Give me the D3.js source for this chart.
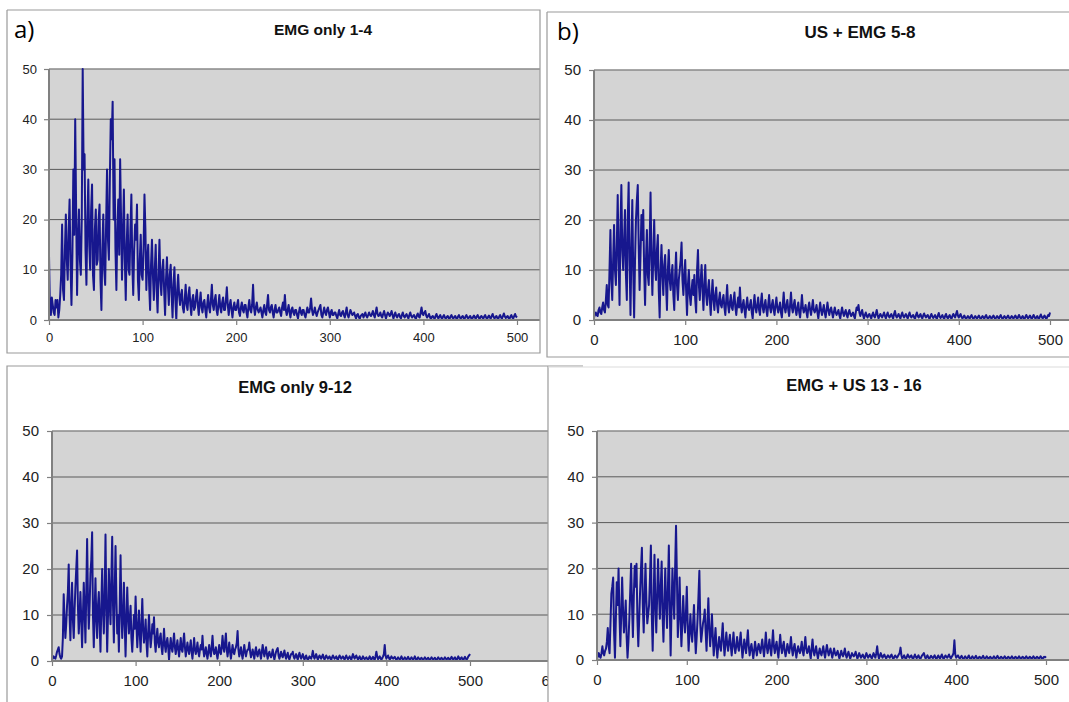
<!DOCTYPE html>
<html><head><meta charset="utf-8">
<script src="https://cdn.jsdelivr.net/npm/d3@7"></script>
<style>body{margin:0;background:#fff}svg{display:block}</style>
</head><body><svg id="c" width="1069" height="702"></svg>
<script>
// frequency step between samples (Hz)
const freqStep = 1;

const emgOnly1to4 = [
13,2,1,4.5,3,1.5,1,4,2.5,4,0.5,2,5,9,19,6,4,14,21,12,
8,18,24,11,3,13,30,17,40,22,5,16,22,12,9,20,50,30,33,14,
7,20,28,15,10,22,27,9,6,18,22,11,12,20,23,8,2,14,21,10,
7,19,30,16,12,28,40,36,43.5,20,32,14,6,18,24,13,32,20,8,17,
26,12,4,15,21,10,9,18,25,11,5,14,19,16,23,8,4,12,17,9,
8,14,25,18,6,12,15,7,2,11,16,9,4,10,15,6,1.5,9,16,8,
5,10,12,6,1,8,12.5,7,3,9,11,5,0.5,7,10.5,4,0,6,9,5,
3,5,6,2.5,1.5,4,7,3,2,5,6.5,3,1,4,5,2,2.5,4.5,6,3,
1,3.5,5.5,2.5,1.5,3.5,4,2,0.5,3,5,2.5,1.5,4,7,3,2,4,5,2,
1,3,5,2.5,1.5,3.5,4.5,2,2,4,6.5,3,1,3,4,2,0.5,2.5,3.5,2,
2,3,4,1.5,0.8,2.5,3.5,2,1.5,3,3,1.5,0.5,2.5,4,2,1.5,3,7,2.5,
1,2.5,3.5,2,1.5,2,2.5,1.5,0.5,2,3,1.5,1,3,5,2,1.5,2.5,3,1.5,
0.5,2,3,1.5,1.5,2,2.5,1.5,0.8,2.5,3.5,2,5,2,1,2,3,1.5,0.5,2,
2.5,1.5,1,2,2,1,0.3,1.5,2.5,1.5,1,2,2,1,0.5,1.5,2.5,1.5,1.5,2.5,
4.3,2,1,1.5,2.5,1.5,0.8,1.5,2,2.5,3,1,0.5,1.5,2.5,1.5,1,2,2.5,1.5,
0.5,1.5,2,1,1,1.5,1.5,0.8,0.3,1.2,2,1,0.8,1.5,1.8,1,0.5,1.5,2.5,1,
0.5,1.2,2,1.5,1,1.2,1.5,0.8,0.3,1,1.2,0.6,0.2,0.8,1,1.2,0.5,1,1.5,0.8,
0.5,1,1.5,1,0.8,1.2,1.8,1,0.5,1.5,2.5,1.2,0.8,1,1.5,0.8,0.5,1.2,1.8,1,
0.3,1,1.5,1.2,0.8,1.2,1.8,1,0.3,1,1.5,0.8,0.5,1,1.2,0.6,0.3,1,1.5,0.8,
0.5,0.9,1.2,0.7,0.3,1,1.5,0.8,0.5,0.8,1,0.5,0.2,0.9,1.3,0.7,0.5,1.5,2.5,1.2,
1,1.5,1.8,0.9,0.5,0.8,1.2,0.6,0.2,0.6,0.8,0.5,0.2,0.8,1.2,0.6,0.3,0.7,1,0.5,
0.2,0.7,1,0.5,0.3,0.6,0.8,0.4,0.2,0.7,1,0.5,0.3,0.6,0.8,0.4,0.2,0.7,1,0.5,
0.3,0.6,0.8,0.4,0.2,0.7,1,0.5,0.3,0.6,0.8,0.4,0.2,0.6,0.9,0.5,0.3,0.7,1,0.5,
0.2,0.6,0.8,0.5,0.3,0.7,1,0.5,0.2,0.6,0.9,0.5,0.3,0.8,1.2,0.6,0.3,0.6,0.8,0.4,
0.2,0.7,1,0.5,0.3,0.8,1.3,0.7,0.4,0.6,0.8,0.4,0.2,0.7,1,0.5,0.3,0.8,1.2,0.7,
0.5];

const usEmg5to8 = [
0.5,1,1.5,1,0.8,2,2.5,1.5,1.2,2.5,3.5,2,1.5,4,7,3,2.5,10,18,8,
4,12,19,10,7,15,25,12,3,18,27,14,10,16,22,9,4,20,27.5,12,
1,14,24,10,0.5,12,20,24,27,15,6,13,21,16,22,10,3,12,18,9,
7,15,25.5,12,5,13,20,11,8,14,17,6,0.5,10,15,9,5,11,13,7,
2,10,14,8,6,9,11,5,2,9,13.5,7,4,8,10,12,15.5,8,5,9,
12,6,1,7,10,5,3,6,8,5,9,4,1.5,10,14,7,4,8,11,6,
2,7,11,5,3,6,8,4,1,5,8,4,2,5,6.5,3,1.5,4,5.5,3,
2.5,4,5,2.5,1,4,7,3,1.5,3.5,5,2.5,2,4,5.5,2.5,1,3,4.5,2.5,
6.5,3,1.5,3,4,2,0.5,3,4.5,2.5,2,3,4,1.5,0.3,3,5,2.5,1.5,3,
4.5,2,1,3.5,5.3,2.5,1.5,3,4,2,0.8,3,5,2.5,1.5,3,4,2,1,3,
4.5,2.5,1.5,2.5,3.5,1.5,0.5,3,5.5,2.5,1.5,3,4,2,0.8,3,5.5,2.5,1.5,3,
4,2,1,2.5,3.5,1.5,0.5,2.5,5,2.5,1.5,2,3,1.5,0.5,2.5,3.5,2,1,2.5,
4,2,1.5,2,3,1.5,0.3,2,3.5,2,1,2,3,1.5,0.5,2,3.5,2,1,2,
2.5,1.5,0.5,1.5,2.5,1.5,1,1.5,2,1,0.3,1.5,2.5,1.5,0.8,1.5,2,1,0.5,1.5,
2,1.2,0.8,1.2,1.5,0.8,0.3,1.5,2.5,2,3,1.5,0.8,1.5,2,1,0.3,1,1.5,0.8,
0.5,1,1.2,0.7,0.3,1,1.5,0.8,0.5,1.2,2,1,0.3,0.8,1.2,0.8,0.5,1,1.5,0.8,
0.3,1,1.5,0.8,0.5,0.9,1.2,0.7,0.3,1.2,1.8,0.9,0.5,0.8,1.2,0.7,0.3,1,1.5,0.8,
0.5,0.9,1.2,0.7,0.3,1,1.5,0.8,0.5,0.8,1,0.5,0.2,1,1.5,0.8,0.5,0.9,1.2,0.6,
0.3,0.9,1.3,0.8,0.5,0.8,1,0.5,0.2,0.8,1.2,0.7,0.4,0.7,1,0.5,0.2,0.9,1.4,0.7,
0.4,0.7,1,0.5,0.2,0.8,1.2,0.6,0.3,0.7,1,0.5,0.2,0.8,1.2,0.8,0.5,1.2,1.8,0.9,
0.5,0.9,1.2,0.6,0.3,0.6,0.9,0.5,0.2,0.5,0.8,0.5,0.3,0.7,1,0.5,0.2,0.5,0.8,0.5,
0.3,0.6,0.9,0.5,0.2,0.5,0.8,0.5,0.3,0.7,1,0.5,0.2,0.5,0.8,0.5,0.3,0.6,0.9,0.5,
0.2,0.5,0.8,0.5,0.3,0.7,1,0.5,0.2,0.5,0.8,0.5,0.3,0.6,0.9,0.5,0.2,0.5,0.8,0.5,
0.3,0.6,0.9,0.5,0.2,0.6,1,0.6,0.3,0.5,0.8,0.4,0.2,0.6,1,0.6,0.3,0.6,0.9,0.5,
0.2,0.6,1,0.6,0.3,0.5,0.8,0.4,0.2,0.7,1.1,0.6,0.3,0.6,0.9,0.5,0.2,0.6,1,0.8,
1.5];

const emgOnly9to12 = [
0.3,0.6,1,0.7,0.5,1.2,2,2.5,3,1.5,0.8,0.5,1,5,14.5,9,5,8,12,15,
21,10,4.5,12,17,9,5,11,16,20,24,12,6,10,15,9,3,10,17,11,
4,15,26.5,14,7,12,19,22,28,10,3,11,18,9,5,12,15,8,2,12,
20,11,6,14,27.5,12,2,10,20,13,8,18,27,12,4,15,25,14,6,10,
2,12,23,11,5,10,17,8,1,9,16,10,6,9,12,5,2,6,10,7,
14,8,3,7,11,6,2,8,13.5,7,4,6,9,4,1,6,10,6,3,5,
8,6,9.5,4,2,5,7,4,3,5,6,3,1.5,4,7,3.5,2,4,5,3,
0.3,3,5,3,2,4,6,3,1.5,3,4.5,2.5,1,3,5,2.5,2,4,6,3,
1,2.5,4,2.5,1.5,3,4.5,2,0.5,2.5,5,2.5,1.5,2.5,4,2,1,2.5,3.5,2.5,
5.5,2.5,1,2,3,1.5,0.5,2,3.5,2,1,3,5.5,2.5,1.5,2,3,1.5,0.5,2,
3.5,2,1.5,3,5.5,3,2,4,6,2.5,1,2.5,4,2,0.5,2,3.5,2,1.5,2.5,
3,4,6.5,2.5,1,2,3,1.5,0.5,2,3.5,2,1,2,2.5,2.5,4,2,0.8,1.5,
2.5,1.5,0.5,2,3,1.5,1,2,2.5,1.5,0.5,2,3.5,2,1,2,3,1.5,0.5,1.5,
2,1.2,0.8,1.5,2.5,1.2,0.3,1.2,2,2.5,2.8,1.2,0.5,1.2,2,1.2,0.8,1.5,2.3,1.2,
0.5,1.2,1.8,0.8,0.3,1,1.5,1.5,2,1,0.5,1,1.5,0.8,0.3,1.2,1.8,1,0.5,1,
1.5,0.8,0.3,0.8,1.2,0.6,0.2,0.6,1,0.7,0.5,1.2,2.2,1,0.5,1,1.5,0.8,0.3,0.8,
1.2,0.8,0.5,1,1.4,0.7,0.3,0.8,1.2,0.8,0.5,0.8,1,0.5,0.2,0.8,1.2,0.8,0.5,0.7,
1,0.5,0.2,0.8,1.2,0.8,0.5,0.8,1,0.6,0.3,0.8,1.2,0.7,0.4,0.7,1,0.6,0.3,0.9,
1.5,0.9,0.5,0.9,1.2,0.7,0.3,0.7,1,0.5,0.2,0.6,1,0.6,0.4,0.6,0.8,0.5,0.2,0.6,
1,0.6,0.3,0.6,0.9,0.5,0.2,1,2,1,0.4,0.7,1,0.6,0.3,0.6,1,1.5,3.5,1.2,
0.5,0.9,1.2,0.7,0.3,0.6,1,0.7,0.5,0.7,0.9,0.5,0.2,0.5,0.8,0.5,0.3,0.6,1,0.5,
0.2,0.5,0.8,0.5,0.3,0.6,0.9,0.5,0.2,0.5,0.8,0.5,0.3,0.6,1,0.5,0.2,0.5,0.8,0.5,
0.3,0.5,0.7,0.4,0.2,0.5,0.8,0.5,0.3,0.5,0.7,0.4,0.2,0.5,0.8,0.5,0.3,0.5,0.7,0.4,
0.2,0.5,0.8,0.5,0.3,0.5,0.7,0.4,0.2,0.5,0.8,0.5,0.3,0.5,0.7,0.4,0.2,0.6,0.9,0.5,
0.3,0.6,0.8,0.4,0.2,0.6,1,0.6,0.3,0.6,0.8,0.4,0.2,0.6,0.9,0.5,0.3,0.6,1,1.2,
1.5];

const emgUs13to16 = [
0.3,0.8,1.5,0.8,0.5,1.5,3,1.5,1,2,2.5,4,7,3,1.5,8,14.5,16,18,6,
0.5,9,17,12,20,10,3,10,18,11,6,9,13,5,0.5,4,9,15,21,12,
5,14,20.5,16,21,9,3,9,15,20,24.5,12,6,14,21,13,8,10,12,18,
25,10,2,12,23,12,6,14,22,15,9,16,21.5,10,4,12,20,12,7,16,
25,12,1,11,20,14,9,20,29.3,18,5,10,18,9,3,8,14,9,6,10,
16,8,2,6,10,6,4,8,12,6,1.5,5,9,14,19.5,8,4,6,8,9,
11,6,2,8,13.5,7,3,6,10,5,1,4,7,3,0.5,3,5,3,2,5,
8,4,1,3.5,6,3.5,2,4,5.5,3,1,3.5,6,3,1.5,3,5,3,2,4,
6,3,0.5,2.5,4.5,3,1.5,4,6.5,3,1,2.5,3.5,2,0.3,2,4,2.5,1,2.5,
3.5,2.5,1.5,3,4.5,2.5,0.8,3,6,3,1.5,3,4.5,2.5,1,3.5,6.5,3,1.5,3,
4,2,0.5,3,5.5,3,1.5,3,4,2,0.8,2,3.5,2.5,1.5,3,5,2.5,1,2.5,
3.5,2,0.5,2,3,2,1.5,2.5,4,2,1,3,5,2.5,1.5,2,3,1.5,0.3,2.5,
4.5,2,1,2,3,1.5,0.3,1.5,2.5,1.5,1,2,3,1.5,0.5,2,3.3,2,1,1.8,
2.5,1.5,0.5,1.5,2.5,1.5,1,1.5,2,1,0.3,1.2,2,1.2,0.8,1.5,2.5,1.2,0.5,1.2,
1.8,1,0.3,0.9,1.5,1,0.8,1.2,1.8,1,0.3,0.9,1.5,0.9,0.5,0.9,1.2,0.7,0.3,0.9,
1.5,0.9,0.5,0.9,1.2,0.7,0.3,0.9,1.5,0.9,0.5,1.5,3,1.2,0.3,0.9,1.5,0.9,0.5,0.9,
1.2,0.7,0.3,0.7,1,0.7,0.5,0.9,1.2,0.6,0.2,0.6,1,0.7,0.5,0.8,1.2,1.5,2.7,1,
0.3,0.7,1,0.5,0.2,0.7,1.2,0.8,0.5,0.8,1,0.5,0.2,0.7,1.2,0.7,0.4,0.7,1,0.5,
0.2,0.6,1,1.2,1.5,0.8,0.3,0.7,1,0.5,0.2,0.6,0.9,0.6,0.4,0.7,1,0.5,0.2,0.6,
1,0.6,0.3,0.8,1.2,0.6,0.2,0.6,1,0.7,0.5,0.8,1.2,0.7,0.3,0.7,1,1.5,4.3,1.2,
0.5,0.8,1,0.6,0.3,0.6,0.9,0.5,0.2,0.5,0.8,0.5,0.3,0.6,1,0.5,0.2,0.5,0.8,0.5,
0.3,0.6,0.9,0.5,0.2,0.5,0.7,0.5,0.3,0.6,0.9,0.5,0.2,0.5,0.8,0.5,0.3,0.5,0.7,0.4,
0.2,0.5,0.8,0.5,0.3,0.6,0.9,0.5,0.2,0.5,0.7,0.5,0.3,0.5,0.8,0.5,0.2,0.5,0.7,0.5,
0.3,0.5,0.8,0.5,0.2,0.5,0.7,0.5,0.3,0.5,0.8,0.5,0.2,0.5,0.7,0.5,0.3,0.5,0.8,0.5,
0.2,0.5,0.7,0.5,0.3,0.5,0.8,0.5,0.2,0.5,0.7,0.5,0.3,0.5,0.8,0.5,0.2,0.5,0.7,0.6,
0.8];

const titles = ["EMG only 1-4", "US + EMG 5-8", "EMG only 9-12", "EMG + US 13 - 16"];
const letters = ["a)", "b)", "", ""];
const yTicks = [0, 10, 20, 30, 40, 50];
const xTicks500 = [0, 100, 200, 300, 400, 500];
const xTicks600 = [0, 100, 200, 300, 400, 500, 600];

const series = [emgOnly1to4, usEmg5to8, emgOnly9to12, emgUs13to16];
const xTickSets = [xTicks500, xTicks500, xTicks600, xTicks500];

// layout (positions only)
const layout = [
  {bg:[0,0,545,360], x0:49, xEnd:517, xMax:500, right:540, top:69, bottom:320, fs:13, pad:7, tx:323, ty:35, tfs:15.5, lx:14, ly:38},
  {bg:[545,0,524,360], x0:594, xEnd:1050, xMax:500, right:1069, top:70, bottom:320, fs:15, pad:8, tx:860, ty:38, tfs:17, lx:557, ly:40},
  {bg:[0,360,548,342], x0:52, xEnd:553.6, xMax:600, right:548, top:431, bottom:661, fs:15, pad:8, tx:295, ty:393, tfs:16.5},
  {bg:[548,360,521,342], x0:597, xEnd:1046, xMax:500, right:1069, top:431, bottom:660, fs:15, pad:8, tx:854, ty:391, tfs:16.5}
];

const svg = d3.select("#c");
const font = "'Liberation Sans', Arial, sans-serif";

layout.forEach((L, k) => {
  const g = svg.append("g");
  g.append("rect").attr("x", L.bg[0]).attr("y", L.bg[1]).attr("width", L.bg[2]).attr("height", L.bg[3]).attr("fill", "#fff");

  const x = d3.scaleLinear().domain([0, L.xMax]).range([L.x0, L.xEnd]);
  const y = d3.scaleLinear().domain([0, 50]).range([L.bottom, L.top]);

  const cid = "clip" + k;
  svg.append("defs").append("clipPath").attr("id", cid)
    .append("rect").attr("x", L.x0).attr("y", L.top - 2).attr("width", L.right - L.x0).attr("height", L.bottom - L.top + 3);

  g.append("rect").attr("x", L.x0).attr("y", L.top).attr("width", L.right - L.x0).attr("height", L.bottom - L.top).attr("fill", "#d4d4d4");

  // gridlines
  g.selectAll(".grid").data(yTicks.filter(t => t > 0)).enter().append("line")
    .attr("x1", L.x0).attr("x2", L.right).attr("y1", d => y(d)).attr("y2", d => y(d))
    .attr("stroke", d => d === 50 ? "#8a8a8a" : "#5a5a5a").attr("stroke-width", d => d === 50 ? 1.5 : 1);

  // data line
  const line = d3.line().x((d, i) => x(i * freqStep)).y(d => y(d));
  g.append("path").datum(series[k]).attr("clip-path", `url(#${cid})`)
    .attr("d", line).attr("fill", "none").attr("stroke", "#17178e").attr("stroke-width", 2).attr("stroke-linejoin", "round");

  // axes
  const ya = g.append("g").attr("transform", `translate(${L.x0},0)`)
    .call(d3.axisLeft(y).tickValues(yTicks).tickSize(5).tickSizeOuter(0).tickPadding(L.pad));
  const xa = g.append("g").attr("transform", `translate(0,${L.bottom})`)
    .call(d3.axisBottom(x).tickValues(xTickSets[k]).tickSize(5).tickSizeOuter(0).tickPadding(L.pad + 1));
  [ya, xa].forEach(a => {
    a.select(".domain").remove();
    a.selectAll(".tick line").attr("stroke", "#808080").attr("stroke-width", 1.2);
    a.selectAll(".tick text").attr("fill", "#222").style("font-family", font).style("font-size", L.fs + "px");
  });
  g.append("line").attr("x1", L.x0).attr("x2", L.x0).attr("y1", L.top).attr("y2", L.bottom + 1)
    .attr("stroke", "#808080").attr("stroke-width", 2);
  g.append("line").attr("x1", L.x0 - 1).attr("x2", L.right).attr("y1", L.bottom).attr("y2", L.bottom)
    .attr("stroke", "#808080").attr("stroke-width", 2);

  g.append("text").attr("x", L.tx).attr("y", L.ty).attr("text-anchor", "middle")
    .style("font-family", font).style("font-weight", "bold").style("font-size", L.tfs + "px").attr("fill", "#111")
    .text(titles[k]);
  if (letters[k]) {
    g.append("text").attr("x", L.lx).attr("y", L.ly)
      .style("font-family", "'Open Sans', 'Noto Sans', sans-serif").style("font-size", "24px").attr("fill", "#000")
      .text(letters[k]);
  }
});

// panel frames
const frames = [
  [[7,10],[540,10],[540,353],[7,353],[7,10]],
  [[547,12],[1069,12]],
  [[547,12],[547,357],[1069,357]],
  [[7,702],[7,366],[583,366]],
  [[548,702],[548,366]],
  [[548,367],[1069,367]]
];
svg.selectAll(".frame").data(frames).enter().append("path")
  .attr("d", d => d3.line()(d)).attr("fill", "none")
  .attr("stroke", (d, i) => i === 5 ? "#dcdcdc" : "#9a9a9a").attr("stroke-width", 1.2);
</script></body></html>
